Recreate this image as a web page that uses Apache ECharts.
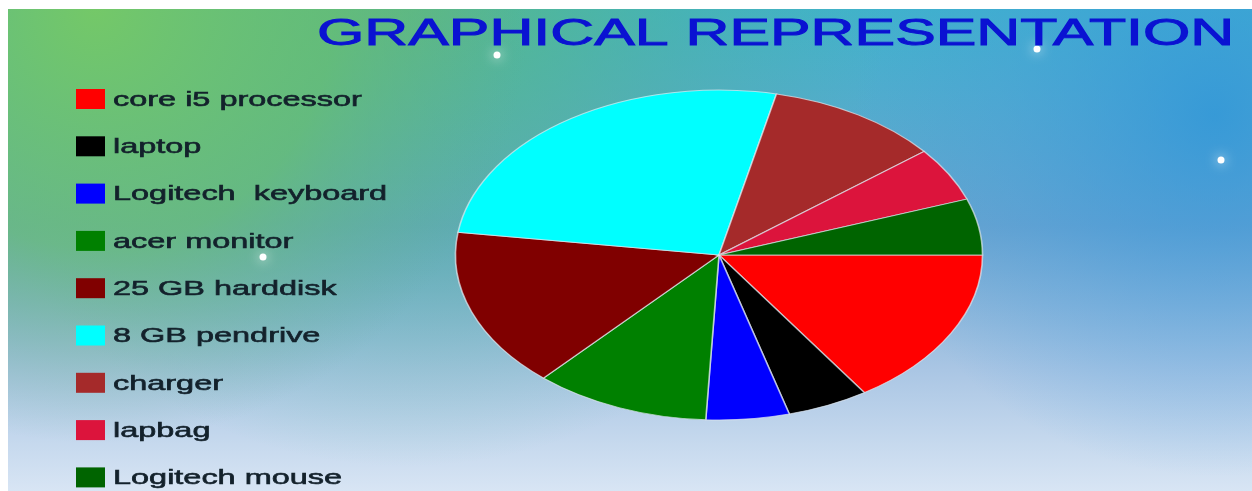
<!DOCTYPE html>
<html><head><meta charset="utf-8">
<script src="https://cdn.jsdelivr.net/npm/echarts@6/dist/echarts.min.js"></script>
<style>html,body{margin:0;padding:0;background:#fff}#main{width:1252px;height:491px}</style>
</head><body><div id="main"></div>
<script>
// ---- data ----
const categories = ['core i5 processor', 'laptop', 'Logitech  keyboard', 'acer monitor', '25 GB harddisk', '8 GB pendrive', 'charger', 'lapbag', 'Logitech mouse'];
const values = [15.7, 5.0, 5.1, 10.8, 15.6, 26.3, 10.7, 5.3, 5.5];
const colors = ['#ff0000', '#000000', '#0000ff', '#008000', '#800000', '#00ffff', '#a52a2a', '#dc143c', '#006400'];
const titleText = 'GRAPHICAL REPRESENTATION';

// ---- layout ----
const total = values.reduce((a, b) => a + b, 0);
const starts = [];
let acc = 0;
values.forEach(v => { starts.push(acc); acc += v; });

const chart = echarts.init(document.getElementById('main'), null, { renderer: 'canvas' });

const graphics = [];
// background
graphics.push({
  type: 'rect', z: -20, shape: { x: 8, y: 9, width: 1244, height: 482 },
  style: { fill: new echarts.graphic.LinearGradient(0, 0, 0, 1, [
    { offset: 0, color: '#40b2cc' }, { offset: 0.45, color: '#6aa4cf' },
    { offset: 0.75, color: '#aac6e4' }, { offset: 1, color: '#d8e5f4' }]) }
});
graphics.push({
  type: 'rect', z: -19, shape: { x: 8, y: 9, width: 1244, height: 482 },
  style: { fill: new echarts.graphic.RadialGradient(0.32, -0.05, 1.0, [
    { offset: 0, color: 'rgba(92,188,120,0.9)' }, { offset: 0.6, color: 'rgba(80,180,150,0.4)' },
    { offset: 1, color: 'rgba(80,180,160,0)' }]) }
});
graphics.push({
  type: 'rect', z: -18, shape: { x: 8, y: 9, width: 1244, height: 482 },
  style: { fill: new echarts.graphic.RadialGradient(0.07, 0.0, 0.9, [
    { offset: 0, color: 'rgba(116,200,104,1)' }, { offset: 0.55, color: 'rgba(105,190,112,0.72)' },
    { offset: 1, color: 'rgba(100,170,150,0)' }]) }
});
graphics.push({
  type: 'rect', z: -17, shape: { x: 8, y: 9, width: 1244, height: 482 },
  style: { fill: new echarts.graphic.RadialGradient(0.97, 0.22, 0.75, [
    { offset: 0, color: 'rgba(45,148,218,0.75)' }, { offset: 0.6, color: 'rgba(65,155,222,0.3)' },
    { offset: 1, color: 'rgba(65,155,222,0)' }]) }
});
// sparkles
[[497, 55], [1037, 49], [1221, 160], [263, 257]].forEach(p => {
  graphics.push({ type: 'circle', z: -10, shape: { cx: p[0], cy: p[1], r: 3.5 },
    style: { fill: '#ffffff', shadowBlur: 12, shadowColor: '#ffffff' } });
});
// title
graphics.push({
  type: 'text', z: 10, x: 317, y: 35, scaleX: 1.69,
  style: { text: titleText, fontFamily: 'Liberation Sans', fontSize: 36, fill: '#0a12d2',
    stroke: '#0a12d2', lineWidth: 0.9,
    textAlign: 'left', textVerticalAlign: 'middle', align: 'left', verticalAlign: 'middle' }
});
// legend
categories.forEach((c, i) => {
  const cy = 99 + i * 47.3;
  graphics.push({ type: 'rect', z: 10, shape: { x: 76, y: cy - 10, width: 29, height: 20 },
    style: { fill: colors[i] } });
  graphics.push({
    type: 'text', z: 10, x: 113, y: cy + 1, scaleX: 1.545,
    style: { text: c, fontFamily: 'Liberation Sans', fontSize: 21, fill: '#13212b',
      stroke: '#13212b', lineWidth: 0.6,
      textAlign: 'left', textVerticalAlign: 'middle', align: 'left', verticalAlign: 'middle' }
  });
});

chart.setOption({
  animation: false,
  backgroundColor: '#ffffff',
  graphic: { elements: graphics },
  series: [{
    type: 'custom',
    coordinateSystem: 'none',
    data: values.map((v, i) => ({ name: categories[i], value: [v, starts[i]] })),
    renderItem: function (params, api) {
      const v = api.value(0), s = api.value(1);
      const a0 = s / total * Math.PI * 2;
      const a1 = (s + v) / total * Math.PI * 2;
      return {
        type: 'sector',
        x: 719, y: 255, scaleX: 1.597, scaleY: 1,
        shape: { cx: 0, cy: 0, r: 165, r0: 0, startAngle: a0, endAngle: a1, clockwise: true },
        style: { fill: colors[params.dataIndex], stroke: 'rgba(225,232,240,0.7)', lineWidth: 1, strokeNoScale: true }
      };
    }
  }]
});
</script></body></html>
